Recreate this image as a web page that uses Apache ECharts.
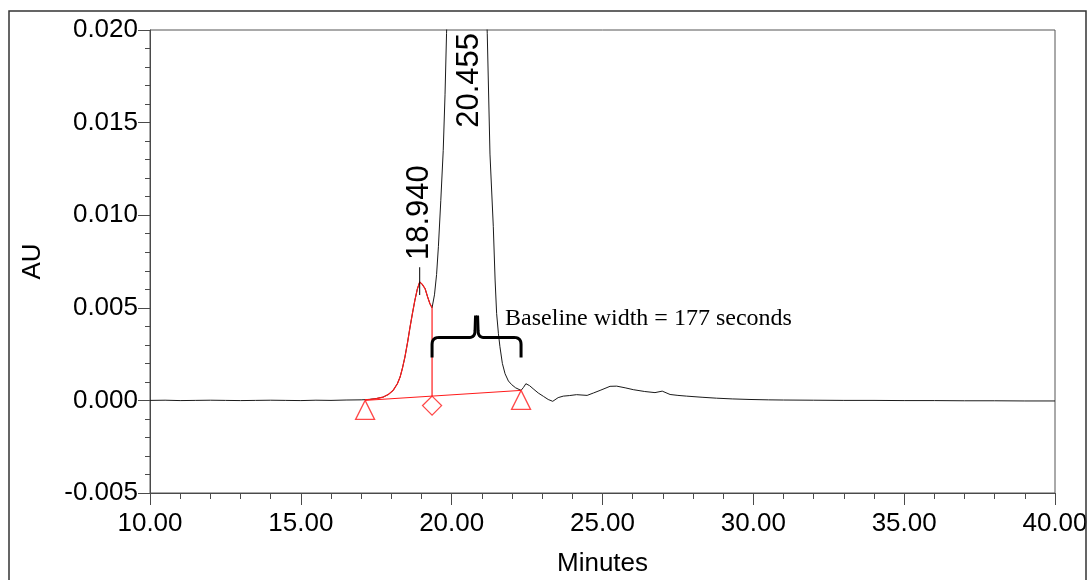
<!DOCTYPE html>
<html>
<head>
<meta charset="utf-8">
<title>Chromatogram</title>
<script src="https://cdn.jsdelivr.net/npm/echarts@6/dist/echarts.min.js"></script>
<style>
  html, body { margin: 0; padding: 0; background: #fff; }
  #chart { width: 1089px; height: 580px; }
</style>
</head>
<body>
<div id="chart"></div>
<script>
// Detector trace: retention time (minutes) and absorbance (AU)
const timeMin = [
  10.0, 10.5, 11.0, 11.5, 12.0, 12.5, 13.0, 13.5, 14.0, 14.5,
  15.0, 15.5, 16.0, 16.5, 17.0, 17.13, 17.3, 17.5, 17.73, 17.9,
  18.06, 18.2, 18.29, 18.37, 18.45, 18.54, 18.62, 18.70, 18.78, 18.86,
  18.94, 19.02, 19.12, 19.20, 19.28, 19.35, 19.43, 19.50, 19.56, 19.64,
  19.72, 19.78, 19.83, 19.90, 20.00, 20.15, 20.30, 20.455, 20.60, 20.75,
  20.90, 21.05, 21.18, 21.27, 21.38, 21.44, 21.49, 21.55, 21.60, 21.68,
  21.77, 21.88, 21.99, 22.12, 22.30, 22.38, 22.46, 22.58, 22.70, 22.87,
  23.04, 23.20, 23.35, 23.53, 23.70, 23.90, 24.14, 24.49, 24.70, 24.92,
  25.25, 25.47, 25.75, 26.02, 26.40, 26.74, 26.98, 27.24, 27.50, 27.79,
  28.30, 28.78, 29.30, 29.89, 30.5, 31.0, 32.0, 33.0, 34.0, 35.0,
  36.0, 37.0, 38.0, 39.0, 40.0
];
const absorbance = [
  0.00000, 0.00001, -0.00001, 0.00000, 0.00001, 0.00000, -0.00001, 0.00000, 0.00001, 0.00000,
  -0.00001, 0.00001, 0.00000, 0.00002, 0.00003, 0.00004, 0.00006, 0.00010, 0.00018, 0.00032,
  0.00054, 0.00090, 0.00126, 0.00175, 0.00234, 0.00315, 0.00396, 0.00470, 0.00540, 0.00600,
  0.00639, 0.00628, 0.00603, 0.00560, 0.00522, 0.00500, 0.00570, 0.00680, 0.00830, 0.01080,
  0.01350, 0.01650, 0.01980, 0.02400, 0.03200, 0.04800, 0.06400, 0.07200, 0.06600, 0.05000,
  0.03600, 0.02600, 0.01980, 0.01330, 0.00940, 0.00650, 0.00470, 0.00360, 0.00290, 0.00200,
  0.00144, 0.00105, 0.00085, 0.00068, 0.00054, 0.00070, 0.00090, 0.00080, 0.00063, 0.00040,
  0.00022, 0.00005, -0.00005, 0.00015, 0.00023, 0.00026, 0.00031, 0.00027, 0.00040, 0.00054,
  0.00076, 0.00077, 0.00068, 0.00058, 0.00048, 0.00042, 0.00050, 0.00032, 0.00027, 0.00023,
  0.00017, 0.00012, 0.00008, 0.00005, 0.00003, 0.00002, 0.00001, 0.00000, 0.00000, -0.00001,
  -0.00001, -0.00002, -0.00002, -0.00003, -0.00003
];

// Integration events: [time, AU]
const integrationStart = [17.13, 0.00000];
const integrationEnd = [22.30, 0.00054];
const valleyTime = 19.35;

// Peak annotations
const peakTimes = [18.94, 20.455];
const peakLabels = ['18.940', '20.455'];
const baselineWidthLabel = 'Baseline width = 177 seconds';

// Axis ticks
const xTicks = { min: 10, max: 40, step: 5 };
const yTicks = { min: -0.005, max: 0.020, step: 0.005 };

const trace = timeMin.map((t, i) => [t, absorbance[i]]);
const firstPeak = trace.filter(p => p[0] >= integrationStart[0] && p[0] <= valleyTime);
const valleySignal = absorbance[timeMin.indexOf(valleyTime)];
const baselineAt = t => integrationStart[1] +
  (t - integrationStart[0]) / (integrationEnd[0] - integrationStart[0]) *
  (integrationEnd[1] - integrationStart[1]);
const valleyBase = baselineAt(valleyTime);
const firstApex = absorbance[timeMin.indexOf(peakTimes[0])];

const RED = '#ff1a1a';
const AXIS = '#4a4a4a';
const FONT = "'Liberation Sans', Arial, sans-serif";

const chart = echarts.init(document.getElementById('chart'), null, { renderer: 'canvas' });

const option = {
  animation: false,
  backgroundColor: '#fff',
  grid: {
    left: 150, right: 34, top: 30, bottom: 87,
    outerBoundsMode: 'none', containLabel: false,
    show: true, borderColor: '#555', borderWidth: 1
  },
  xAxis: {
    type: 'value',
    min: xTicks.min, max: xTicks.max, interval: xTicks.step,
    name: 'Minutes', nameLocation: 'middle', nameGap: 58,
    nameTextStyle: { fontFamily: FONT, fontSize: 26, color: '#000' },
    axisLine: { show: true, onZero: false, lineStyle: { color: AXIS, width: 1 } },
    axisTick: { show: true, length: 12, lineStyle: { color: AXIS } },
    minorTick: { show: true, splitNumber: 5, length: 6, lineStyle: { color: AXIS } },
    splitLine: { show: false },
    axisLabel: {
      margin: 18, fontFamily: FONT, fontSize: 26, color: '#000',
      formatter: v => v.toFixed(2)
    }
  },
  yAxis: {
    type: 'value',
    min: yTicks.min, max: yTicks.max, interval: yTicks.step,
    name: 'AU', nameLocation: 'middle', nameGap: 104, nameRotate: 90,
    nameTextStyle: { fontFamily: FONT, fontSize: 26, color: '#000' },
    axisLine: { show: true, onZero: false, lineStyle: { color: AXIS, width: 1 } },
    axisTick: { show: true, length: 12, lineStyle: { color: AXIS } },
    minorTick: { show: true, splitNumber: 5, length: 5, lineStyle: { color: AXIS } },
    splitLine: { show: false },
    axisLabel: {
      margin: 12, fontFamily: FONT, fontSize: 26, color: '#000',
      formatter: v => v.toFixed(3)
    }
  },
  series: [
    {
      name: 'trace', type: 'line', data: trace, showSymbol: false, clip: true,
      lineStyle: { color: '#1a1a1a', width: 1 }, z: 2
    },
    {
      name: 'peak 1', type: 'line', data: firstPeak, showSymbol: false,
      lineStyle: { color: RED, width: 1.2 }, z: 3
    },
    {
      name: 'baseline', type: 'line', data: [integrationStart, integrationEnd], showSymbol: false,
      lineStyle: { color: RED, width: 1 }, z: 3
    },
    {
      name: 'drop', type: 'line', data: [[valleyTime, valleyBase], [valleyTime, valleySignal]],
      showSymbol: false, lineStyle: { color: RED, width: 1.2 }, z: 3
    },
    {
      name: 'apex tick', type: 'line',
      data: [[peakTimes[0], firstApex - 0.0007], [peakTimes[0], firstApex + 0.0008]],
      showSymbol: false, lineStyle: { color: '#000', width: 1 }, z: 4
    },
    {
      name: 'events', type: 'scatter', z: 5,
      data: [
        { value: integrationStart, symbol: 'triangle' },
        { value: integrationEnd, symbol: 'triangle' },
        { value: [valleyTime, valleyBase], symbol: 'diamond' }
      ],
      symbolSize: [19, 19], symbolOffset: [0, 9.5],
      itemStyle: { color: 'rgba(0,0,0,0)', borderColor: RED, borderWidth: 1.3 }
    }
  ]
};
chart.setOption(option);

// Annotations positioned from data coordinates
const px = (t, v) => chart.convertToPixel({ gridIndex: 0 }, [t, v]);
const apex1 = px(peakTimes[0], firstApex);
const apex2x = px(peakTimes[1], 0)[0];
const plotTop = px(xTicks.min, yTicks.max)[1];

// Curly brace spanning the peak baseline width
const L = px(valleyTime, 0)[0];
const R = px(integrationEnd[0], 0)[0];
const Y = px(0, 0.0034)[1];
const C = (L + R) / 2;
function corner(p0, p1, p2, n) {
  const out = [];
  for (let i = 1; i <= n; i++) {
    const s = i / n, u = 1 - s;
    out.push([u * u * p0[0] + 2 * u * s * p1[0] + s * s * p2[0],
              u * u * p0[1] + 2 * u * s * p1[1] + s * s * p2[1]]);
  }
  return out;
}
const braceLeft = [[L, Y + 20], [L, Y + 7], ...corner([L, Y + 7], [L, Y], [L + 7, Y], 6),
  [C - 7, Y], ...corner([C - 7, Y], [C - 1.5, Y], [C - 1.5, Y - 7], 6), [C - 1, Y - 22]];
const braceRight = [[C + 1, Y - 22], [C + 1.5, Y - 7], ...corner([C + 1.5, Y - 7], [C + 1.5, Y], [C + 7, Y], 6),
  [R - 7, Y], ...corner([R - 7, Y], [R, Y], [R, Y + 7], 6), [R, Y + 20]];
const textPos = px(21.77, 0.0044);

chart.setOption({
  graphic: [
    {
      type: 'text', x: apex1[0], y: apex1[1] - 22, rotation: Math.PI / 2, z: 10,
      style: { text: peakLabels[0], fontFamily: FONT, fontSize: 31, fill: '#000',
               align: 'left', verticalAlign: 'middle' }
    },
    {
      type: 'text', x: apex2x + 4, y: plotTop + 3, rotation: Math.PI / 2, z: 10,
      style: { text: peakLabels[1], fontFamily: FONT, fontSize: 31, fill: '#000',
               align: 'right', verticalAlign: 'middle' }
    },
    {
      type: 'polyline', z: 10,
      shape: { points: braceLeft },
      style: { fill: null, stroke: '#000', lineWidth: 3, lineJoin: 'round' }
    },
    {
      type: 'polyline', z: 10,
      shape: { points: braceRight },
      style: { fill: null, stroke: '#000', lineWidth: 3, lineJoin: 'round' }
    },
    {
      type: 'text', x: textPos[0], y: textPos[1], z: 10,
      style: { text: baselineWidthLabel, fontFamily: "'Liberation Serif', 'Times New Roman', serif",
               fontSize: 24, fill: '#000', align: 'left', verticalAlign: 'middle' }
    },
    {
      type: 'rect', z: 20,
      shape: { x: 9, y: 11, width: 1077, height: 620 },
      style: { fill: null, stroke: '#333', lineWidth: 1.5 }
    }
  ]
});
</script>
</body>
</html>
